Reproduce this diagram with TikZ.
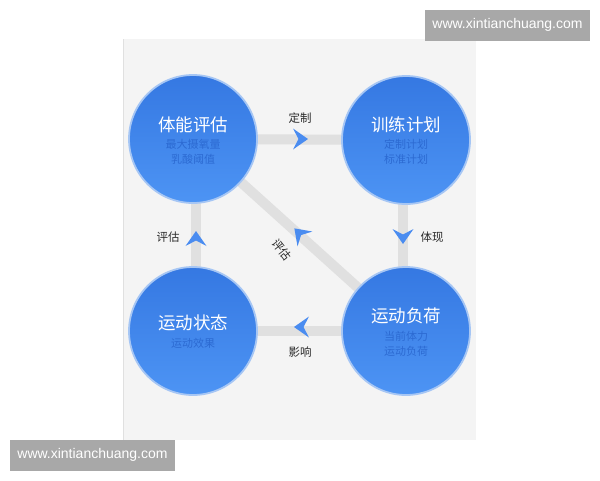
\documentclass[tikz,border=0pt]{standalone}
\usepackage{fontspec}
\setmainfont{Liberation Sans}
\newfontfamily\cjk{Noto Sans CJK SC}
\usetikzlibrary{calc}
\pgfdeclarelayer{back}
\pgfdeclarelayer{mid}
\pgfsetlayers{back,mid,main}
\definecolor{panelbg}{HTML}{F4F4F4}
\definecolor{barcol}{HTML}{E0E0E0}
\definecolor{blueTop}{HTML}{3578E2}
\definecolor{blueBot}{HTML}{4D94F4}
\definecolor{glow}{HTML}{A6C6F4}
\definecolor{subcol}{HTML}{2C6AD2}
\definecolor{arrowblue}{HTML}{4A8CF0}
\definecolor{labcol}{HTML}{2A2A2A}
\definecolor{wmbg}{HTML}{A8A8A8}
\tikzset{
  bubble/.style={circle, minimum size=128pt, inner sep=0pt, top color=blueTop, bottom color=blueBot, draw=glow, line width=1.8pt},
  title/.style={text=white, font=\cjk\fontsize{17.5}{20}\selectfont, inner sep=0pt},
  subt/.style={text=subcol, font=\cjk\fontsize{11}{15}\selectfont, inner sep=0pt, align=center},
  lab/.style={text=labcol, font=\cjk\fontsize{11.5}{14}\selectfont, inner sep=0pt},
  bar/.style={draw=barcol, line width=10pt},
  wm/.style={fill=wmbg, text=white, font=\fontsize{14}{16}\selectfont, minimum width=165pt, minimum height=31pt, inner sep=0pt},
  chev/.pic={\fill[arrowblue] (8,0) -- (-7,-10.5) -- (-1.5,0) -- (-7,10.5) -- cycle;}
}
\begin{document}
\begin{tikzpicture}[x=1pt,y=-1pt]
\useasboundingbox (0,0) rectangle (600,480);
\begin{pgfonlayer}{back}
  \fill[white] (0,0) rectangle (600,480);
  \fill[panelbg] (123,39) rectangle (476,440);
  \draw[barcol, line width=1pt] (123.5,39) -- (123.5,440);
\end{pgfonlayer}
% circles
\node[bubble] (pa) at (193,139) {};
\node[bubble] (pb) at (406,140) {};
\node[bubble] (pc) at (193,331) {};
\node[bubble] (pd) at (406,331) {};
% texts
\node[title] (ta) at ($(pa)+(0,-14)$) {体能评估};
\node[subt] (sa) at ($(pa)+(0,12.5)$) {最大摄氧量\\乳酸阈值};
\node[title] (tb) at ($(pb)+(0,-15)$) {训练计划};
\node[subt] (sb) at ($(pb)+(0,11.5)$) {定制计划\\标准计划};
\node[title] (tc) at ($(pc)+(0,-8)$) {运动状态};
\node[subt] (sc) at ($(pc)+(0,12)$) {运动效果};
\node[title] (td) at ($(pd)+(0,-15)$) {运动负荷};
\node[subt] (sd) at ($(pd)+(0,12.5)$) {当前体力\\运动负荷};
% bars
\begin{pgfonlayer}{mid}
  \draw[bar] (pa.center) -- (pb.center);
  \draw[bar] ([xshift=-3pt]pb.center) -- ([xshift=-3pt]pd.center);
  \draw[bar] (pd.center) -- (pc.center);
  \draw[bar] ([xshift=3pt]pc.center) -- ([xshift=3pt]pa.center);
  \draw[bar] (pa.center) -- (pd.center);
\end{pgfonlayer}
% arrowheads
\pic at (300,139) {chev};
\pic[rotate=-90] at (403,236) {chev};
\pic[rotate=180] at (302,327) {chev};
\pic[rotate=90] at (196,239) {chev};
\pic[rotate=135] at (300,234) {chev};
% labels
\node[lab] (l1) at (300,118) {定制};
\node[lab] (l2) at (432,237) {体现};
\node[lab] (l3) at (300,352) {影响};
\node[lab] (l4) at (168,237) {评估};
\node[lab, rotate=-52] (l5) at (282,250) {评估};
% watermarks
\node[wm] (w1) at (507.5,25) {www.xintianchuang.com};
\node[wm] (w2) at (92.5,455) {www.xintianchuang.com};
\end{tikzpicture}
\end{document}
